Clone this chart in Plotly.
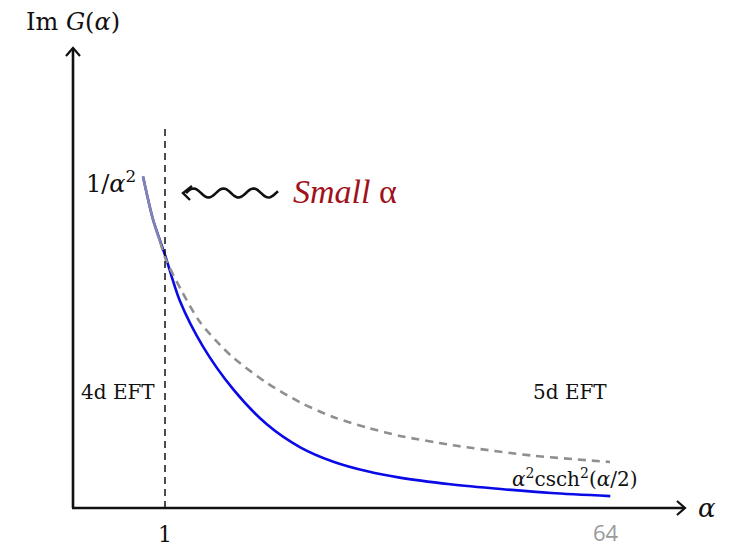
import numpy as np
import plotly.graph_objects as go

W, H = 731, 549

# Sketched response curves: exact (blue) and the 1/alpha^2 asymptote (grey)
alpha_exact = [0.761, 0.87, 1.00, 1.16, 1.41, 1.74, 2.11, 2.47, 2.83, 3.20, 3.55, 4.10, 4.65, 5.20, 5.84]
im_g_exact = [1.31, 1.14, 1.00, 0.82, 0.64, 0.47, 0.33, 0.24, 0.183, 0.145, 0.120, 0.094, 0.075, 0.059, 0.047]

alpha_small = [0.761, 0.87, 0.95]
im_g_small = [1.31, 1.14, 1.05]

alpha_asym = [0.95, 1.00, 1.185, 1.38, 1.598, 1.739, 2.109, 2.467, 2.826, 3.196, 3.554, 4.098, 4.283, 5.0, 5.837]
im_g_asym = [1.05, 0.99, 0.855, 0.735, 0.645, 0.595, 0.494, 0.418, 0.360, 0.318, 0.285, 0.250, 0.240, 0.207, 0.182]

crossover_alpha = 1.0
divider_top = 1.514
x_tick_vals = [1]
x_tick_text = ["1"]

# Axis frame: alpha=0 at pixel 73, 92 px per unit; Im G=0 at pixel 508, 253 px per unit
X0, XS = 73, 92
Y0, YS = 508, 253
x_range = [-X0 / XS, (W - X0) / XS]
y_range = [(Y0 - H) / YS, Y0 / YS]


def px(x):
    return x / W


def py(y):
    return 1 - y / H


fig = go.Figure()

fig.add_trace(go.Scatter(x=alpha_exact, y=im_g_exact, mode="lines",
                         line=dict(color="#0a0ae6", width=2.6, shape="spline", smoothing=0.8),
                         hoverinfo="skip", showlegend=False))
fig.add_trace(go.Scatter(x=alpha_small, y=im_g_small, mode="lines",
                         line=dict(color="#9a9aa8", width=2.6, shape="spline"),
                         opacity=0.85, hoverinfo="skip", showlegend=False))
fig.add_trace(go.Scatter(x=alpha_asym, y=im_g_asym, mode="lines",
                         line=dict(color="#8f8f8f", width=2.6, dash="8px,6px", shape="spline", smoothing=0.8),
                         hoverinfo="skip", showlegend=False))

shapes = []
# vertical divider at alpha = 1
shapes.append(dict(type="line", xref="x", yref="y", x0=crossover_alpha, x1=crossover_alpha,
                   y0=0, y1=divider_top, line=dict(color="#111", width=1.5, dash="7px,5px")))
# axes
shapes.append(dict(type="line", xref="paper", yref="paper", x0=px(73), x1=px(73),
                   y0=py(Y0), y1=py(48), line=dict(color="#111", width=2.6)))
shapes.append(dict(type="line", xref="paper", yref="paper", x0=px(72), x1=px(685),
                   y0=py(Y0), y1=py(Y0), line=dict(color="#111", width=2.6)))
# open arrowheads on the axes
shapes.append(dict(type="path", xref="paper", yref="paper",
                   path=f"M{px(66)},{py(56)} L{px(73)},{py(48)} L{px(80)},{py(56)}",
                   line=dict(color="#111", width=2.2)))
shapes.append(dict(type="path", xref="paper", yref="paper",
                   path=f"M{px(677)},{py(501)} L{px(685)},{py(Y0)} L{px(677)},{py(515)}",
                   line=dict(color="#111", width=2.2)))

# wavy "small alpha" arrow
wx = np.linspace(186, 278, 60)
wy = 193 + 4.5 * np.sin((wx - 186) / 30.0 * 2 * np.pi + np.pi)
wave = "M" + " L".join(f"{px(a)},{py(b)}" for a, b in zip(wx, wy))
shapes.append(dict(type="path", xref="paper", yref="paper", path=wave,
                   line=dict(color="#111", width=2.6)))
shapes.append(dict(type="path", xref="paper", yref="paper",
                   path=f"M{px(192)},{py(186)} L{px(183)},{py(193)} L{px(190)},{py(200)}",
                   line=dict(color="#111", width=2.4)))

serif = "DejaVu Serif, serif"


def label(x, y, text, size, color="#111", family=serif, yanchor="middle"):
    return dict(xref="paper", yref="paper", x=px(x), y=py(y), text=text, showarrow=False,
                xanchor="center", yanchor=yanchor, borderpad=0,
                font=dict(family=family, size=size, color=color))


annotations = [
    label(73, 22, "Im <i>G</i>(<i>α</i>)", 24),
    label(111, 182, "1/<i>α</i><sup>2</sup>", 24),
    label(345, 192, "<i>Small</i> α", 34, color="#a0121a", family="Liberation Serif, serif"),
    label(118, 392, "4d EFT", 20),
    label(570, 392, "5d EFT", 20),
    label(575, 478, "<i>α</i><sup>2</sup>csch<sup>2</sup>(<i>α</i>/2)", 20),
    label(707, 508, "<i>α</i>", 26),
    label(606, 548, "64", 22, color="#9a9a9a", family="Open Sans, sans-serif", yanchor="bottom"),
]

fig.update_layout(
    width=W, height=H,
    margin=dict(l=0, r=0, t=0, b=0, pad=0, autoexpand=False),
    paper_bgcolor="white", plot_bgcolor="white",
    xaxis=dict(range=x_range, showgrid=False, zeroline=False, showline=False,
               tickmode="array", tickvals=x_tick_vals, ticktext=x_tick_text,
               ticks="", ticklabelposition="inside",
               tickfont=dict(family=serif, size=22, color="#111"), fixedrange=True),
    yaxis=dict(range=y_range, showgrid=False, zeroline=False, showline=False,
               showticklabels=False, fixedrange=True),
    shapes=shapes,
    annotations=annotations,
)

fig.write_html("out.html")
